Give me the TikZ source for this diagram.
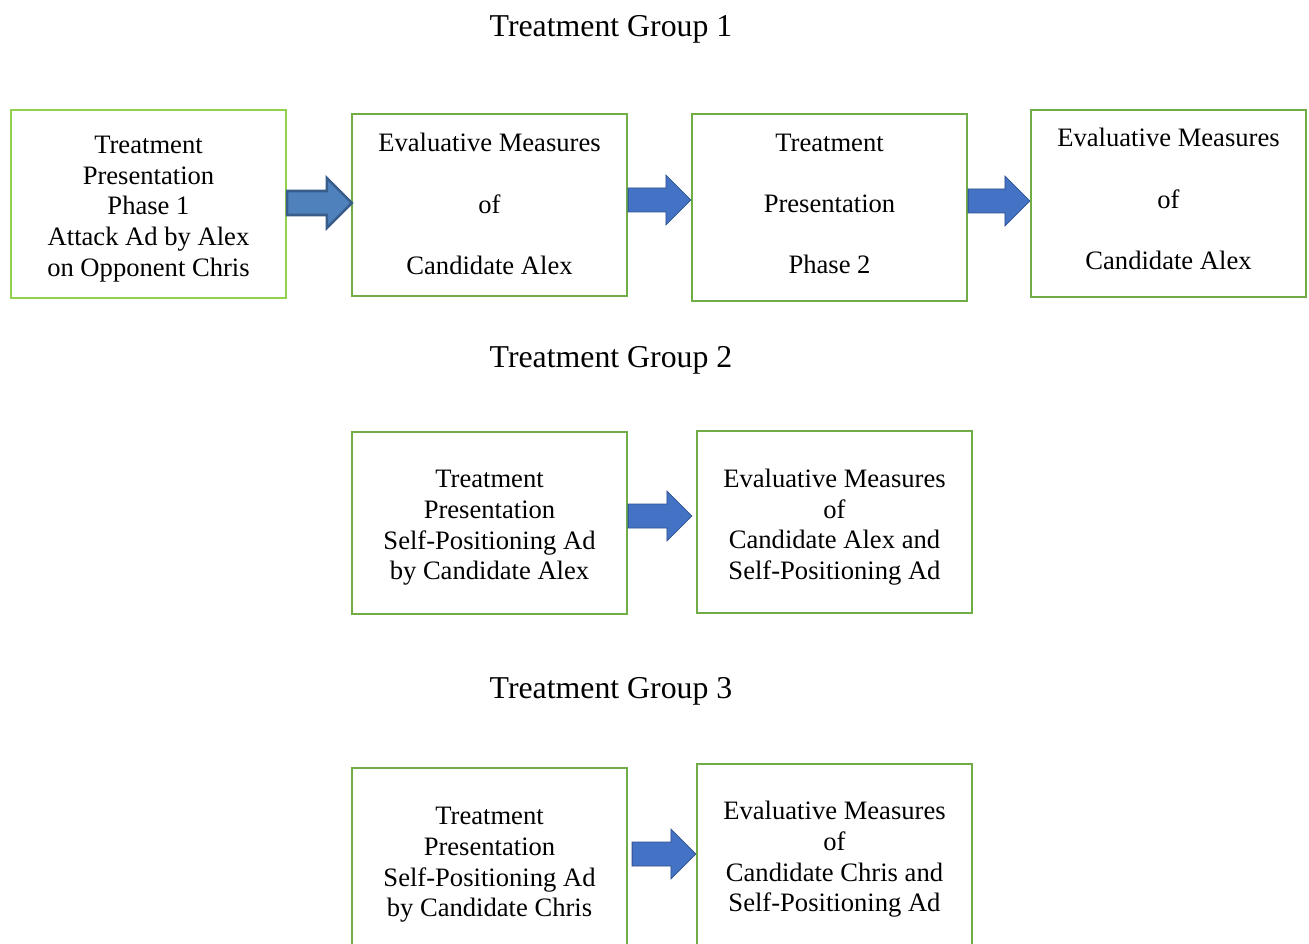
\documentclass[tikz,border=0pt]{standalone}
\usepackage{fontspec}
\setmainfont{Liberation Serif}
\usetikzlibrary{calc}
\definecolor{boxgreen}{HTML}{70AD47}
\definecolor{lightgreen}{HTML}{92D050}
\definecolor{arrfill}{HTML}{4472C4}
\definecolor{arrline}{HTML}{2F528F}
\definecolor{arrfillA}{HTML}{4F81BD}
\definecolor{arrlineA}{HTML}{385D8A}
\tikzset{
  stagebox/.style={draw=boxgreen, line width=2.2pt, minimum width=275pt, minimum height=184pt,
    inner sep=0pt},
  boxtext/.style={align=center, inner sep=0pt, font=\fontsize{26.6}{30.6}\selectfont},
  widetext/.style={boxtext, font=\fontsize{26.6}{61.2}\selectfont},
  grouptitle/.style={font=\fontsize{31.8}{36}\selectfont, inner sep=0pt},
  blockarrow/.style={draw=arrline, fill=arrfill, line width=0.8pt, line join=miter},
  firstarrow/.style={draw=arrlineA, fill=arrfillA, line width=2.6pt, line join=miter}
}
% block arrow from tail coordinate #2 to tip coordinate #3
\newcommand\blockarr[3][blockarrow]{%
  \draw[#1] ($(#2)+(0,-12)$) -- ($(#3)+(-25,-12)$) -- ($(#3)+(-25,-25)$) -- (#3)
    -- ($(#3)+(-25,25)$) -- ($(#3)+(-25,12)$) -- ($(#2)+(0,12)$) -- cycle;}
\begin{document}
\begin{tikzpicture}[x=1pt,y=-1pt]
\clip (0,0) rectangle (1309,944);
\fill[white] (0,0) rectangle (1309,944);

\node[grouptitle] (t1) at (611,29) {Treatment Group 1};
\node[grouptitle] (t2) at (611,360) {Treatment Group 2};
\node[grouptitle] (t3) at (611,691) {Treatment Group 3};

% Row 1
\node[stagebox, draw=lightgreen, minimum height=188pt] (b1) at (148.5,204) {};
\node[stagebox, minimum height=182pt] (b2) at (489.5,205) {};
\node[stagebox, minimum height=187pt] (b3) at (829.5,207.5) {};
\node[stagebox, minimum height=187pt] (b4) at (1168.5,203.5) {};
\node[boxtext] (x1) at ($(b1.center)+(0,5)$)
  {Treatment\\Presentation\\Phase 1\\Attack Ad by Alex\\on Opponent Chris};
\node[widetext] (x2) at ($(b2.center)+(0,-1)$) {Evaluative Measures\\of\\Candidate Alex};
\node[widetext] (x3) at ($(b3.center)+(0,-3.5)$) {Treatment\\Presentation\\Phase 2};
\node[widetext] (x4) at ($(b4.center)+(0,-4.5)$) {Evaluative Measures\\of\\Candidate Alex};

\coordinate (a1s) at ($(b1.east)+(0,-1)$);
\coordinate (a1e) at ($(b2.west)+(1,-2)$);
\coordinate (a2s) at ($(b2.east)+(0,-5)$);
\coordinate (a2e) at ($(b3.west)+(0,-7.5)$);
\coordinate (a3s) at ($(b3.east)+(0,-6.5)$);
\coordinate (a3e) at ($(b4.west)+(0,-2.5)$);
\blockarr[firstarrow]{a1s}{a1e}
\blockarr{a2s}{a2e}
\blockarr{a3s}{a3e}

% Row 2
\node[stagebox, minimum height=182pt] (b5) at (489.5,523) {};
\node[stagebox, minimum height=182pt] (b6) at (834.5,522) {};
\node[boxtext] (x5) at ($(b5.center)+(0,5)$)
  {Treatment\\Presentation\\Self-Positioning Ad\\by Candidate Alex};
\node[boxtext] (x6) at ($(b6.center)+(0,5)$)
  {Evaluative Measures\\of\\Candidate Alex and\\Self-Positioning Ad};
\coordinate (a4s) at ($(b5.east)+(0,-7)$);
\coordinate (a4e) at ($(b6.west)+(-4,-6)$);
\blockarr{a4s}{a4e}

% Row 3
\node[stagebox, minimum height=186pt] (b7) at (489.5,861) {};
\node[stagebox, minimum height=186pt] (b8) at (834.5,857) {};
\node[boxtext] (x7) at ($(b7.center)+(0,4)$)
  {Treatment\\Presentation\\Self-Positioning Ad\\by Candidate Chris};
\node[boxtext] (x8) at ($(b8.center)+(0,2.5)$)
  {Evaluative Measures\\of\\Candidate Chris and\\Self-Positioning Ad};
\coordinate (a5s) at ($(b7.east)+(4,-7)$);
\coordinate (a5e) at ($(b8.west)+(0,-3)$);
\blockarr{a5s}{a5e}
\end{tikzpicture}
\end{document}
